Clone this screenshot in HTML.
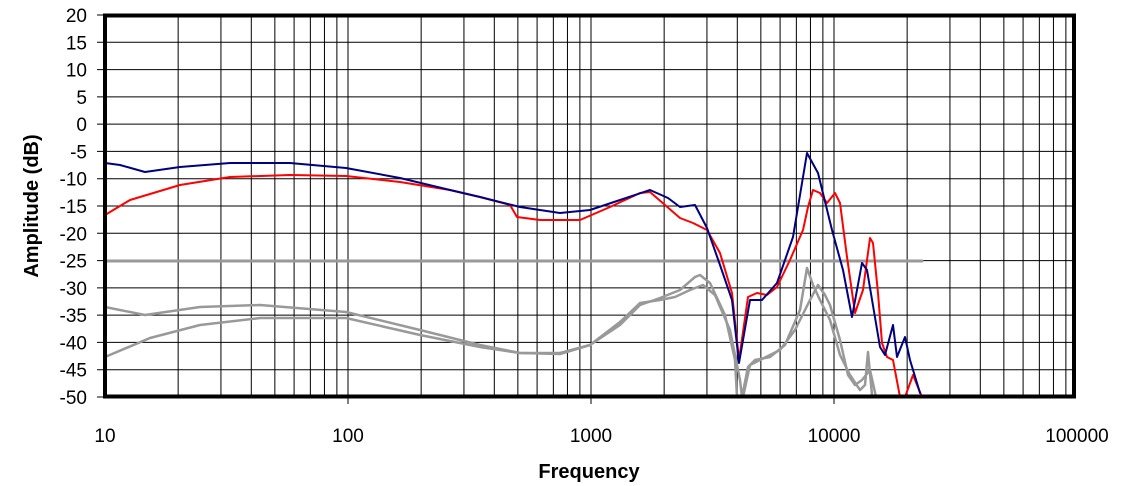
<!DOCTYPE html>
<html><head><style>body{margin:0;background:#fff}svg{display:block;font-family:"Liberation Sans",sans-serif}</style></head>
<body>
<svg id="s" width="1126" height="486" xmlns="http://www.w3.org/2000/svg">
<g id="grid" stroke="#000" stroke-width="1"></g>
<g id="lab" font-size="19" fill="#000"></g>
<g stroke-linejoin="round" stroke-linecap="round">
<line x1="105" y1="261" x2="922" y2="261" stroke="#999" stroke-width="3"/>
<polyline fill="none" stroke="#999" stroke-width="2.5" points="105,307 145,315 200,307 260,305 346,312 420,330 480,345 520,353 560,353 590,345 620,325 640,305 660,298 680,290 695,277 700,275 710,283 725,315 735,360 737,397"/>
<polyline fill="none" stroke="#999" stroke-width="2.5" points="105,357 150,338 200,325 260,318 346,318 420,335 480,347 520,353 560,354 590,345 620,322 640,303 660,300 675,297 690,290 703,285 715,295 730,330 740,380 742,397"/>
<polyline fill="none" stroke="#999" stroke-width="2.5" points="742,397 748,367 755,360 770,357 785,345 800,310 807,268 813,285 820,300 830,320 840,355 850,375 860,390 865,385 868,352 872,395"/>
<polyline fill="none" stroke="#999" stroke-width="2.5" points="743,397 750,365 760,360 780,350 795,330 810,300 818,285 825,295 830,305 840,340 848,375 855,385 862,380 870,370 876,397"/>
<polyline fill="none" stroke="#f00" stroke-width="2" points="105,215 130,200 180,185 230,177 290,175 346,176 400,182 450,190 480,197 510,205 517,217 540,220 580,220 610,207 640,193 650,192 665,205 680,218 693,223 707,230 720,253 732,293 739,360 748,297 757,293 767,295 777,287 790,260 803,230 808,207 813,190 820,193 827,203 835,193 840,203 847,257 855,313 863,290 870,238 873,243 878,293 882,343 887,357 893,360 900,397 905,397 913,375 922,397"/>
<polyline fill="none" stroke="#00007f" stroke-width="2" points="105,163 120,165 145,172 180,167 230,163 290,163 346,168 400,178 450,190 480,197 520,207 560,213 590,210 620,200 650,190 668,198 680,207 695,205 707,228 720,265 732,300 739,363 750,300 762,300 777,283 793,237 807,153 818,173 832,230 843,270 852,317 862,263 867,270 880,347 885,355 893,325 897,357 905,337 910,360 920,393"/>
</g>
<rect x="105" y="15.5" width="969" height="381" fill="none" stroke="#000" stroke-width="4"/>
<text x="589" y="478" font-size="20" font-weight="bold" text-anchor="middle">Frequency</text>
<text transform="translate(38,206) rotate(-90)" font-size="20" font-weight="bold" text-anchor="middle">Amplitude (dB)</text>
</svg>
<script>
var g=document.getElementById('grid'),l=document.getElementById('lab'),ns='http://www.w3.org/2000/svg';
function ln(a,b,c,d){var e=document.createElementNS(ns,'line');e.setAttribute('x1',a);e.setAttribute('y1',b);e.setAttribute('x2',c);e.setAttribute('y2',d);g.appendChild(e);}
function tx(x,y,t,an){var e=document.createElementNS(ns,'text');e.setAttribute('x',x);e.setAttribute('y',y);e.setAttribute('text-anchor',an);e.textContent=t;l.appendChild(e);}
for(var d=0;d<4;d++)for(var k=2;k<=9;k++){var x=105+243*(d+Math.log10(k));ln(x,15,x,397);}
for(var d=1;d<4;d++){ln(105+243*d,15,105+243*d,404);}
for(var v=20;v>=-50;v-=5){var y=15+(20-v)*5.457;ln(97,y,1074,y);tx(87,y+7,String(v),'end');}
var xl=['10','100','1000','10000','100000'];
for(var i=0;i<5;i++)tx(105+243*i,442,xl[i],'middle');
</script>
</body></html>
